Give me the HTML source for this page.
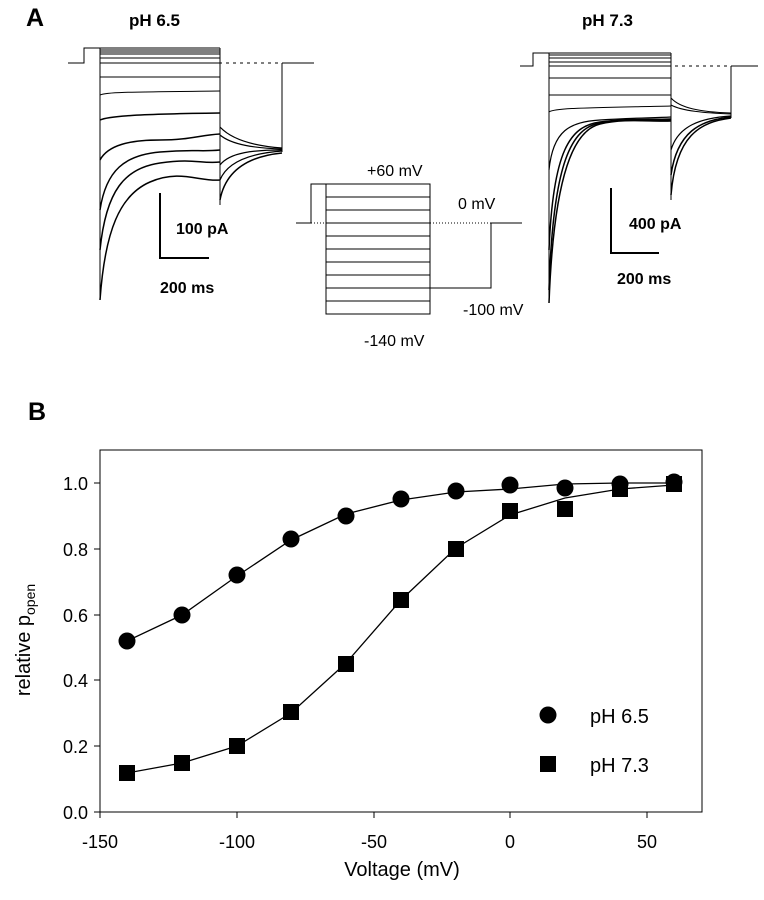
<!DOCTYPE html>
<html><head><meta charset="utf-8"><style>
html,body{margin:0;padding:0;background:#fff;}
svg{display:block;font-family:"Liberation Sans",Arial,sans-serif;}
</style></head><body>
<svg width="764" height="900" viewBox="0 0 764 900" xmlns="http://www.w3.org/2000/svg">
<g fill="#000">
<text x="26" y="26" font-size="25" font-weight="bold">A</text>
<text x="129" y="26" font-size="17" font-weight="bold">pH 6.5</text>
<text x="582" y="26" font-size="17" font-weight="bold">pH 7.3</text>
<text x="28" y="420" font-size="25" font-weight="bold">B</text>
</g>
<!-- left traces -->
<g fill="none" stroke="#000" stroke-width="1">
<path d="M68,63 H84 V48 H100"/>
<path d="M100,63 H282" stroke-dasharray="3,4"/>
<path d="M282,63 H314"/>
<path d="M100,48 V300 M220,48 V205 M282,63 V152"/>
<path d="M100,48H220 M100,50H220 M100,52H220 M100,54H220 M100,58H220 M100,63H220 M100,77H220"/>
<path d="M100,95 C106,92 130,92 220,91"/>
<path d="M100,120 C108,116 140,114 220,113" stroke-width="1.5"/>
<path d="M100,160 C108,145 130,140 160,140 S200,135 220,134" stroke-width="1.5"/>
<path d="M100,210 C106,170 125,155 160,152 S200,152 220,150" stroke-width="1.5"/>
<path d="M100,250 C106,190 125,168 160,163 S200,164 220,162" stroke-width="1.5"/>
<path d="M100,300 C105,230 120,195 150,182 S200,182 220,180" stroke-width="1.5"/>
<path d="M220,127 C232,140 255,146 282,148" stroke-width="1.2"/>
<path d="M220,135 C232,145 255,148 282,149" stroke-width="1.2"/>
<path d="M220,165 C230,152 255,150 282,150" stroke-width="1.2"/>
<path d="M220,180 C228,160 255,153 282,151" stroke-width="1.2"/>
<path d="M220,200 C226,168 252,156 282,153" stroke-width="1.5"/>
<path d="M160,193 V258 H209" stroke-width="2"/>
</g>
<g fill="#000" font-weight="bold" font-size="16">
<text x="176" y="234">100 pA</text>
<text x="160" y="293">200 ms</text>
</g>
<!-- protocol -->
<g fill="none" stroke="#000" stroke-width="1">
<path d="M296,223 H311 V184 H430 V314 H326 V184"/>
<path d="M326,197H430 M326,210H430 M326,223H430 M326,236H430 M326,249H430 M326,262H430 M326,275H430 M326,288H430 M326,301H430"/>
<path d="M311,223 H326 M430,223 H491" stroke-dasharray="1,2"/>
<path d="M430,288 H491 V223 H522"/>
</g>
<g fill="#000" font-size="16">
<text x="367" y="176">+60 mV</text>
<text x="458" y="209">0 mV</text>
<text x="463" y="315">-100 mV</text>
<text x="364" y="346">-140 mV</text>
</g>
<!-- right traces -->
<g fill="none" stroke="#000" stroke-width="1">
<path d="M520,66 H533 V53 H549"/>
<path d="M549,66 H731" stroke-dasharray="3,4"/>
<path d="M731,66 H758"/>
<path d="M549,53 V303 M671,53 V200 M731,66 V118"/>
<path d="M549,53H671 M549,55H671 M549,58H671 M549,62H671 M549,66H671 M549,78H671 M549,95H671"/>
<path d="M549,112 C555,108 580,108 671,106"/>
<path d="M549,170 C553,130 570,122 600,120 S650,118 671,117" stroke-width="1.2"/>
<path d="M549,250 C553,150 570,126 600,122 S650,120 671,119" stroke-width="1.5"/>
<path d="M549,290 C553,160 572,128 600,123 S650,121 671,120" stroke-width="1.5"/>
<path d="M549,303 C554,170 575,130 600,124 S650,122 671,121" stroke-width="1.5"/>
<path d="M671,98 C680,108 700,112 731,113"/>
<path d="M671,105 C682,111 705,113 731,114"/>
<path d="M671,150 C678,126 700,118 731,116" stroke-width="1.2"/>
<path d="M671,175 C677,132 700,120 731,117" stroke-width="1.5"/>
<path d="M671,195 C676,135 700,122 731,118" stroke-width="1.5"/>
<path d="M611,188 V253 H659" stroke-width="2"/>
</g>
<g fill="#000" font-weight="bold" font-size="16">
<text x="629" y="229">400 pA</text>
<text x="617" y="284">200 ms</text>
</g>
<!-- panel B -->
<g fill="none" stroke="#000" stroke-width="1">
<rect x="100" y="450" width="602" height="362"/>
<path d="M94,812H100 M94,746H100 M94,680H100 M94,615H100 M94,549H100 M94,483H100"/>
<path d="M100,812V818 M237,812V818 M374,812V818 M510,812V818 M647,812V818"/>
</g>
<g fill="#000" font-size="18" text-anchor="end">
<text x="88" y="819">0.0</text>
<text x="88" y="753">0.2</text>
<text x="88" y="687">0.4</text>
<text x="88" y="622">0.6</text>
<text x="88" y="556">0.8</text>
<text x="88" y="490">1.0</text>
</g>
<g fill="#000" font-size="18" text-anchor="middle">
<text x="100" y="848">-150</text>
<text x="237" y="848">-100</text>
<text x="374" y="848">-50</text>
<text x="510" y="848">0</text>
<text x="647" y="848">50</text>
<text x="402" y="876" font-size="20">Voltage (mV)</text>
</g>
<text transform="translate(30,640) rotate(-90)" font-size="20" text-anchor="middle" fill="#000">relative p<tspan font-size="14" dy="5">open</tspan></text>
<!-- fits -->
<g fill="none" stroke="#000" stroke-width="1.3">
<polyline points="127,641 182,615 237,576 291,540 346,514 401,500 456,492 510,489 565,484 620,483 674,483"/>
<polyline points="127,773 182,763 237,746 291,713 346,663 401,600 456,548 510,515 565,498 620,489 674,485"/>
</g>
<g fill="#000">
<circle cx="127" cy="641" r="8.5"/><circle cx="182" cy="615" r="8.5"/><circle cx="237" cy="575" r="8.5"/>
<circle cx="291" cy="539" r="8.5"/><circle cx="346" cy="516" r="8.5"/><circle cx="401" cy="499" r="8.5"/>
<circle cx="456" cy="491" r="8.5"/><circle cx="510" cy="485" r="8.5"/><circle cx="565" cy="488" r="8.5"/>
<circle cx="620" cy="484" r="8.5"/><circle cx="674" cy="482" r="8.5"/>
<rect x="119" y="765" width="16" height="16"/><rect x="174" y="755" width="16" height="16"/>
<rect x="229" y="738" width="16" height="16"/><rect x="283" y="704" width="16" height="16"/>
<rect x="338" y="656" width="16" height="16"/><rect x="393" y="592" width="16" height="16"/>
<rect x="448" y="541" width="16" height="16"/><rect x="502" y="503" width="16" height="16"/>
<rect x="557" y="501" width="16" height="16"/><rect x="612" y="481" width="16" height="16"/>
<rect x="666" y="476" width="16" height="16"/>
<circle cx="548" cy="715" r="8.5"/>
<rect x="540" y="756" width="16" height="16"/>
<text x="590" y="723" font-size="20">pH 6.5</text>
<text x="590" y="772" font-size="20">pH 7.3</text>
</g>
</svg>
</body></html>
